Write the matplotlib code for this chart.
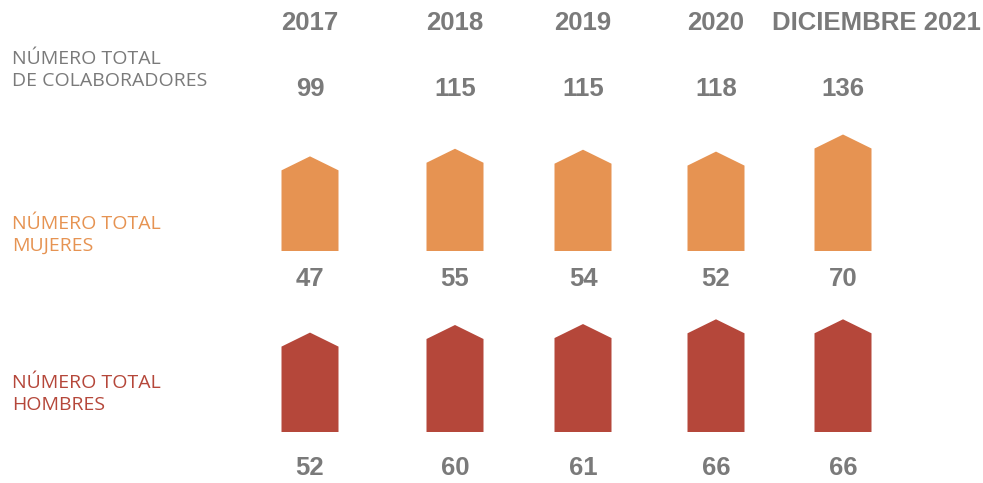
import numpy as np
import matplotlib.pyplot as plt
from matplotlib.patches import Polygon

years = ["2017", "2018", "2019", "2020", "DICIEMBRE 2021"]
total = [99, 115, 115, 118, 136]
mujeres = [47, 55, 54, 52, 70]
hombres = [52, 60, 61, 66, 66]

# layout (pixel canvas)
xpos = [310, 455, 583, 716, 843]
year_x = [310, 455, 583, 716, 876]
bar_w = 57
roof = 14
base_m = 251
base_h = 432

gray = "#7a7a7a"
orange = "#e69352"
red = "#b5473a"


def bar_height(v):
    # pictogram scale: fixed offset plus value
    return 50 + 0.95 * v


def house(ax, xc, base, v, color):
    h = bar_height(v)
    top = base - h
    pts = [(xc - bar_w / 2, base), (xc - bar_w / 2, top + roof), (xc, top),
           (xc + bar_w / 2, top + roof), (xc + bar_w / 2, base)]
    ax.add_patch(Polygon(pts, closed=True, facecolor=color, edgecolor="none"))


fig = plt.figure(figsize=(9.83, 4.83), dpi=100)
ax = fig.add_axes([0, 0, 1, 1])
ax.set_xlim(0, 983)
ax.set_ylim(483, 0)
ax.axis("off")

num_font = dict(family="Liberation Sans", fontweight="bold", fontsize=18.5, color=gray,
                ha="center", va="center")
lab_font = dict(family="Open Sans", fontsize=14, ha="left", va="center", linespacing=1.3)

for i in range(len(years)):
    ax.text(year_x[i], 23, years[i], **num_font)
    ax.text(xpos[i], 89, str(total[i]), **num_font)
    house(ax, xpos[i], base_m, mujeres[i], orange)
    ax.text(xpos[i], 279, str(mujeres[i]), **num_font)
    house(ax, xpos[i], base_h, hombres[i], red)
    ax.text(xpos[i], 468, str(hombres[i]), **num_font)

ax.text(12, 70, "NÚMERO TOTAL\nDE COLABORADORES", color=gray, **lab_font)
ax.text(12, 235, "NÚMERO TOTAL\nMUJERES", color=orange, **lab_font)
ax.text(12, 394, "NÚMERO TOTAL\nHOMBRES", color=red, **lab_font)

fig.savefig("out.png", dpi=100)
